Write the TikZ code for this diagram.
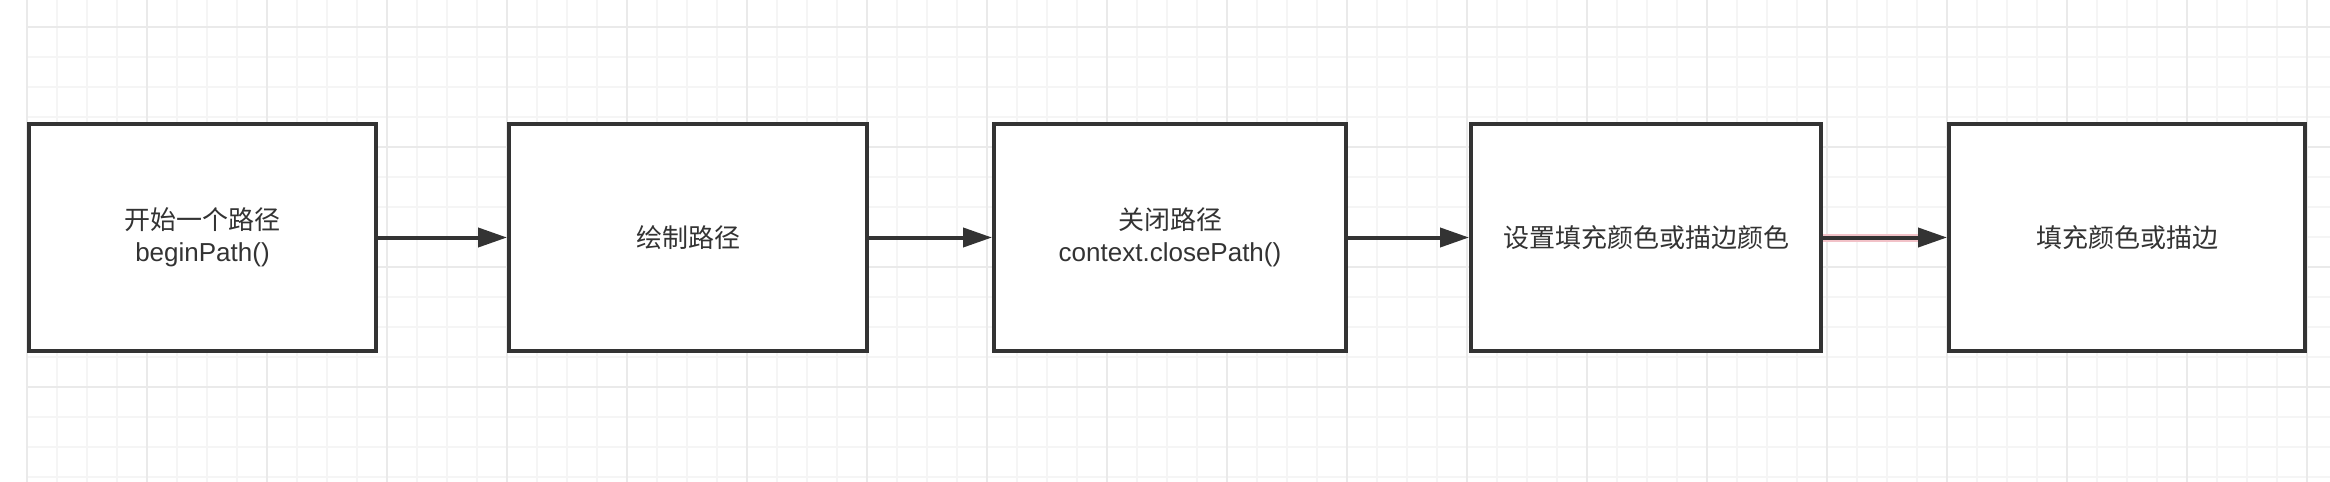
\documentclass[tikz,border=0pt]{standalone}
\usepackage{fontspec}
\setmainfont{Liberation Sans}
\newfontfamily\cjk{Noto Sans CJK SC}
\usetikzlibrary{arrows.meta}
\usepackage{xcolor}
\definecolor{gridminor}{HTML}{F5F5F5}
\definecolor{gridmajor}{HTML}{EAEAEA}
\definecolor{inkgray}{HTML}{333333}
\definecolor{halopink}{HTML}{F2C2C8}

\tikzset{
  flowbox/.style={draw=inkgray, fill=white, line width=4pt, minimum height=227pt,
    align=center, text=inkgray, inner sep=0pt, font=\fontsize{26}{32}\selectfont},
  flowarrow/.style={-{Triangle[length=29pt,width=19pt]}, draw=inkgray, line width=4pt}
}

\begin{document}
\begin{tikzpicture}[x=1pt,y=-1pt]

      % page size, white background
      \useasboundingbox (0,0) rectangle (2330,482);
      \fill [white] (0,0) rectangle (2330,482);

      % background grid
      \foreach \x in {27,57,...,2327}
        \draw [gridminor, line width=1.5pt] (\x,0) -- (\x,482);
      \foreach \y in {27,57,...,477}
        \draw [gridminor, line width=1.5pt] (27,\y) -- (2330,\y);
      \foreach \x in {27,147,...,2307}
        \draw [gridmajor, line width=1.5pt] (\x,0) -- (\x,482);
      \foreach \y in {27,147,...,387}
        \draw [gridmajor, line width=1.5pt] (27,\y) -- (2330,\y);

      % steps
      \node [flowbox, minimum width=347pt, name=b1] at (202.5, 237.5) {{\cjk 开始一个路径}\\beginPath()};
      \node [flowbox, minimum width=358pt, name=b2] at (688, 237.5) {{\cjk 绘制路径}};
      \node [flowbox, minimum width=352pt, name=b3] at (1170, 237.5) {{\cjk 关闭路径}\\context.closePath()};
      \node [flowbox, minimum width=350pt, name=b4] at (1646, 237.5) {{\cjk 设置填充颜色或描边颜色}};
      \node [flowbox, minimum width=356pt, name=b5] at (2127, 237.5) {{\cjk 填充颜色或描边}};

      % connections
      \draw [flowarrow] (b1) -- (b2);
      \draw [flowarrow] (b2) -- (b3);
      \draw [flowarrow] (b3) -- (b4);
      \draw [halopink, line width=8pt, shorten >=28pt] (b4) -- (b5);
      \draw [flowarrow] (b4) -- (b5);

\end{tikzpicture}
\end{document}
